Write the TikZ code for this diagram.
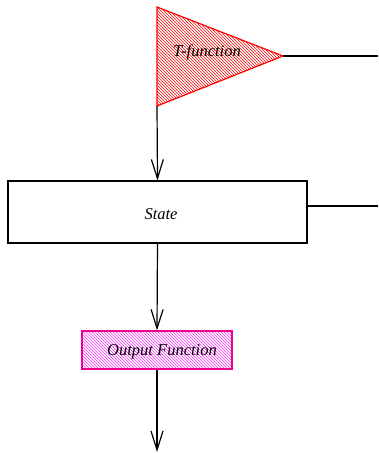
\documentclass[tikz,border=0pt]{standalone}
\usepackage{fontspec}
\setmainfont{Liberation Serif}
\usetikzlibrary{arrows.meta,patterns}
\begin{document}
\begin{tikzpicture}[x=1pt,y=-1pt,
  wire/.style={line width=1.2pt},
  flow/.style={wire,-{Straight Barb[length=19pt,width=12pt,line width=1.2pt]}},
  label/.style={font=\itshape\fontsize{16.5}{19}\selectfont},
  statebox/.style={draw,wire,minimum width=299pt,minimum height=62pt,inner sep=0pt},
  outbox/.style={draw=magenta,line width=1.2pt,pattern=north west lines,pattern color=magenta!80,minimum width=150pt,minimum height=38pt,inner sep=0pt}]
\useasboundingbox (0,0) rectangle (378,453);
% T-function triangle
\coordinate (ttop) at (157,7);
\coordinate (tbot) at (157,106);
\coordinate (tapex) at (283,56);
\fill[pattern=north west lines,pattern color=red] (ttop) -- (tapex) -- (tbot) -- cycle;
\draw[red,line width=1.2pt,line join=miter] (ttop) -- (tapex) -- (tbot) -- cycle;
\node[label] (tf) at (207,52) {T-function};
\coordinate (tout) at (378,56);
\draw[wire] (tapex) -- (tout);
% State block
\node[statebox] (state) at (157.5,212) {};
\node[label] (statetxt) at (161,214) {State};
\coordinate (sout) at (378,206);
\draw[wire] (state.east |- sout) -- (sout);
\draw[flow] (tbot) -- (state.north);
% Output function block
\node[outbox] (out) at (157,350) {};
\node[label] (outtxt) at (162,352) {Output Function};
\draw[flow] (state.south) -- (out.north);
\coordinate (end) at (157,452);
\draw[flow] (out.south) -- (end);
\end{tikzpicture}
\end{document}
